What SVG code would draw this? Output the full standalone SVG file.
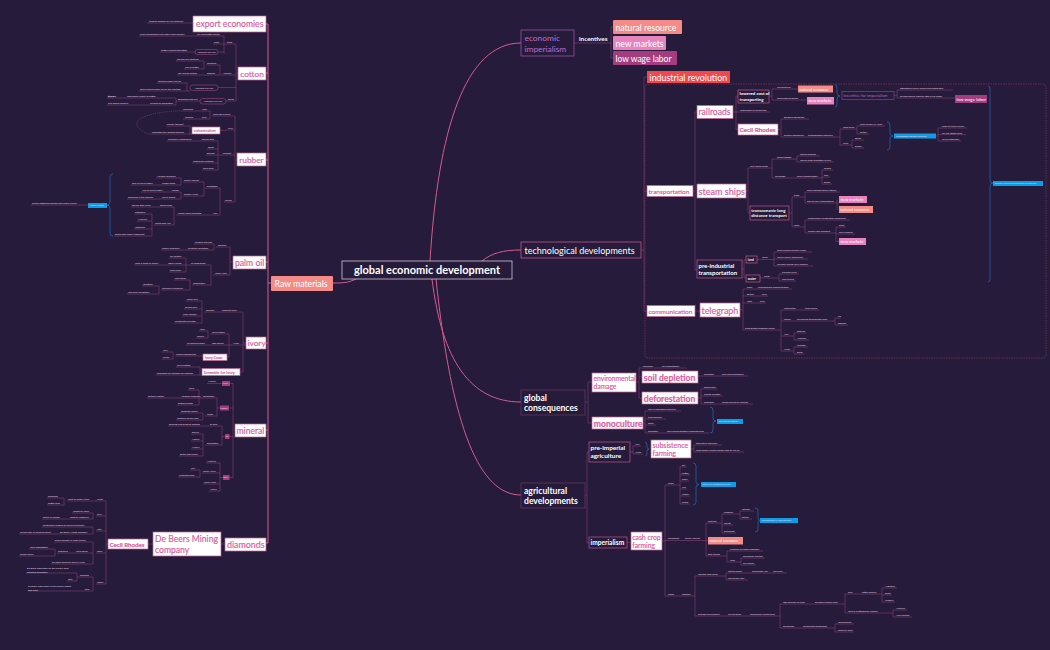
<svg xmlns="http://www.w3.org/2000/svg" width="1050" height="650" viewBox="0 0 1050 650">
<style>
text{font-family:Lato,"Open Sans","Liberation Sans",sans-serif}
.s{font-size:2.35px;fill:#e6dce9}
.sb{font-size:2.35px;fill:#fff;font-weight:700}
.c{stroke:#843f74;stroke-width:0.6;fill:none}
.cd{stroke:#843f74;stroke-width:0.6;fill:none;stroke-dasharray:1.2 0.8}
.m{stroke:#d35c92;stroke-width:1;fill:none}
.bl{stroke:#1f6fbf;stroke-width:0.7;fill:none}
.wb{fill:#fff;stroke:#c26293;stroke-width:0.7}
.db{fill:#261b3a;stroke:#c0578d;stroke-width:0.7}
.pt{fill:#d9609f;stroke:#d9609f;stroke-width:0.18}
.wt{fill:#fff}
.bx{fill:#0f9be6}
.sal{fill:#f58b86}
.pnk{fill:#e784bf}
.mag{fill:#a43d80}
.pill{fill:none;stroke:#b0508a;stroke-width:0.5}
</style>
<rect x="0" y="0" width="1050" height="650" fill="#261b3a"/>
<rect x="645" y="84" width="401" height="274" rx="3" fill="none" stroke="#8e3550" stroke-width="0.7" stroke-dasharray="1.5 1"/>

<g id="connectors">
<path class="m" d="M356 279 C348 283 342 283 333 283"/>
<path class="m" d="M430 261 C438 130 465 43 521 43"/>
<path class="m" d="M482 261 C492 253 503 250 521 250"/>
<path class="m" d="M432 279 C442 360 470 402 521 402"/>
<path class="m" d="M436 279 C452 430 480 495 521 495"/>
<path class="m" d="M264 24 H268 V543 H264 M266 73 H268 M266 160 H268 M266 262 H268 M266 343 H268 M266 430 H268 M268 283 H271"/>
<path class="c" d="M147 23 H193"/>
<path class="c" d="M224 44 H236 M236 44 V101 M236 73 H238 M224 36 V54 M196 36 H224 M139 36 H196 M213 44 H224 M218 52 H224 M160 52 H195 M222 75 H236 M220 65 V75 M206 65 H220 M204 61 V69 M176 61 H204 M184 69 H204 M206 75 H222 M177 75 H206 M218 87.5 H236 M157 83 H187 V91 M139 91 H190 M227 101 H236 M226 101 H227 M176 101 H200 M176 98 V105 M107 98 H176 M107 105 H176"/>
<path class="c" d="M235 116 V202 M235 160 H237 M212 116 H235 M210 111 V119 M182 111 H210 M183 119 H210 M226 130 H235 M220 130.5 H226 M190 126 V134 M166 126 H190 M151 134 H192 M222 155 H235 M218 141 V170 M167 141 H218 M207 149 H218 M206 155 H222 M192 163 H218 M202 170 H218 M224 202 H235 M220 188 V215 M205 188 H220 M204 182 V196 M183 182 H204 M183 196 H204 M181 178 V185 M156 178 H181 M131 185 H181 M181 192 V199 M141 192 H181 M127 199 H181 M176 215 H220 M174 207 V225 M131 207 H174 M154 225 H174 M152 214 V236 M134 214 H152 M137 221 H152 M134 229 H152 M114 236 H152 M31 205 H88"/>
<path class="cd" d="M182 111 C150 111 128 120 140 129 C144 133 148 134 151 134"/>
<path class="bl" d="M113 174 Q110 174 110 177 V202 Q110 205 107 205 Q110 205 110 208 V233 Q110 236 113 236"/>
<path class="c" d="M230 247 V275 M230 262 H233 M216 247 H230 M214 244 V250 M194 244 H214 M161 250 H214 M213 275 H230 M211 265 V285 M190 265 H211 M186 258 V272 M169 258 H186 M134 265 H190 M169 272 H186 M192 285 H211 M190 280 V290 M174 280 H190 M161 290 H190 M159 286 V294 M142 286 H159 M127 294 H159"/>
<path class="c" d="M243 312 V372 M243 343 H246 M220 312 H243 M204 312 H220 M202 301 V323 M186 301 H202 M184 309 H202 M182 316 H202 M174 323 H202 M232 345 H246 M229 334 V357 M210 334 H229 M208 331 V338 M199 331 H208 M196 338 H208 M186 345 H232 M227 357 H229 M175 356 H203 M173 352 V359 M162 352 H173 M162 359 H173 M240 372 H243 M200 367 V375 M176 367 H200 M156 375 H202"/>
<path class="c" d="M233 383 V478 M233 430 H235 M230 383.5 H233 M207 383.5 H222 M229 408 H233 M217 398 V416 M217 408 H220 M201 398 H217 M199 390 V405 M188 390 H199 M147 398 H201 M177 405 H199 M205 416 H217 M203 413 V420 M180 413 H203 M176 420 H203 M229 436.5 H233 M222 426 V445 M222 436.5 H225 M168 426 H222 M205 445 H222 M203 434 V456 M191 434 H203 M191 441 H203 M191 449 H203 M179 456 H203 M229 477.5 H233 M220 463 V491 M220 477.5 H223 M206 463 H220 M202 473 H220 M200 470 V477 M190 470 H200 M178 477 H200 M203 484 H220 M209 491 H220"/>
<path class="c" d="M221 544 H225 M148 544 H153 M106 501 V584 M106 544 H108 M67 501 H106 M64 498 V505 M47 498 H64 M47 505 H64 M96 516 H106 M93 513 V519 M72 513 H93 M42 519 H93 M96 531 H106 M93 527 V534 M42 527 H93 M19 534 H93 M96 553 H106 M93 542 V564 M54 542 H93 M57 553 H93 M55 549 V556 M29 549 H55 M19 556 H55 M51 564 H93 M96 584 H106 M93 577 V591 M77 577 H93 M77 573 V581 M26 573 H77 M67 581 H77 M28 591 H93"/>
<path class="c" d="M574 43 H611 M611 27 V58 M611 27 H613 M611 58 H613"/>
<path class="c" d="M641 250 H644 M644 77 V311 M644 77 H647 M644 191 H647 M644 311 H647 M693 191 H695 M695 112 V270 M695 112 H697 M695 270 H697 M733 112 H736 M736 96 V129.5 M736 96 H738 M736 112 H770 M736 129.5 H738 M769 96 H772 M772 89 V100 M772 89 H798 M772 100 H807 M894 95.5 H897 M897 90 V98 M897 90 H953 M897 98 H955"/>
<path class="bl" d="M835 85 Q837 85 837 88 V93 Q837 96 840 96 Q837 96 837 99 V104 Q837 107 835 107"/>
<path class="c" d="M778 129.5 H781 M781 119 V137 M781 119 H809 M781 137 H840 M840 129 V145 M840 129 H857 M857 126 V134 M857 126 H885 M857 134 H869 M840 145 H852 M852 140 V148 M852 140 H864 M852 148 H864 M936 136 H938 M938 128 V141 M938 128 H967 M938 134.5 H966 M938 141 H961"/>
<path class="bl" d="M887 122 Q890 122 890 125 V133 Q890 136 893 136 Q890 136 890 139 V147 Q890 150 887 150"/>
<path class="c" d="M746 191 H748 M748 168 V213 M748 168 H772 M748 213 H750 M772 159 V178 M772 159 H797 M797 156 V162 M797 156 H820 M797 162 H834 M772 178 H822 M822 170 V184 M822 170 H833 M822 177 H830 M822 184 H832 M789 213 H792 M792 197 V227 M792 197 H805 M805 192 V203 M805 192 H840 M805 203 H839 M837 199.5 V209.5 M792 227 H805 M805 220 V233 M805 220 H850 M805 233 H836 M836 227 V241.5 M836 227 H846 M836 234 H855 M836 241.5 H839 M742 269 H744 M744 259.5 V278 M744 259.5 H746 M744 278 H746 M757 259.5 H774 M774 252 V266 M774 252 H812 M774 259 H808 M774 266 H813 M760 278 H779 M779 274 V281 M779 274 H799 M779 281 H796"/>
<path class="bl" d="M988 86 Q990 86 990 89 V180 Q990 183 993 183 Q990 183 990 186 V279 Q990 282 988 282"/>
<path class="c" d="M695 311 H700 M740 310 H743 M743 289 V330 M743 289 H792 M743 296 H768 M743 303 H766 M743 330 H781 M781 310 V351 M781 310 H819 M781 321 H833 M835 318 V325 M833 321 H835 M835 318 H841 M835 325 H848 M781 336 H794 M794 333 V340 M794 333 H806 M794 340 H809 M781 351 H794 M794 347 V354 M794 347 H808 M794 354 H804"/>
<path class="c" d="M585 402 H588 M588 382 V423 M588 382 H592 M588 423 H592 M636 382 H639 M639 368 V398 M639 368 H687 M639 377 H642 M639 398 H642 M698 376 H748 M698 398 H701 M701 389 V404 M701 389 H717 M701 396 H723 M701 404 H753 M643 423 H645 M645 411 V433 M645 411 H681 M645 419 H666 M645 425 H656 M645 433 H709"/>
<path class="bl" d="M710 407 Q713 407 713 410 V418 Q713 421 716 421 Q713 421 713 424 V430 Q713 433 710 433"/>
<path class="c" d="M585 495 H587 M587 452 V543 M587 452 H589 M587 543 H589 M630 452 H633 M633 446 V454 M633 446 H641 M633 454 H643 M691 449 H694 M694 445 V452 M694 445 H722 M694 452 H744 M627 542.5 H631 M662 541 H665 M665 485 V596 M665 485 H680 M680 467 V504 M680 467 H687 M680 475 H690 M680 481 H689 M680 489 H687 M680 496 H690 M680 504 H690 M665 540.5 H708 M706 523 V556 M706 523 H722 M722 514 V533 M722 514 H740 M740 511 V519 M740 511 H754 M740 519 H752 M722 525 H733 M722 533 H736 M706 556 H727 M727 551 V562 M727 551 H763 M727 562 H741 M741 558 V565 M741 558 H765 M741 565 H756"/>
<path class="bl" d="M645 442 Q647 442 647 445 V446.5 Q647 449 649 449 Q647 449 647 451.5 V453 Q647 456 645 456"/>
<path class="bl" d="M693 463 Q696 463 696 466 V481.5 Q696 484.5 699 484.5 Q696 484.5 696 487.5 V502 Q696 505 693 505"/>
<path class="bl" d="M755 508 Q758 508 758 511 V517.5 Q758 520.5 760 520.5 Q758 520.5 758 523.5 V529 Q758 532 755 532"/>
<path class="c" d="M665 596 H695 M695 576 V616 M695 576 H726 M726 573 V580 M726 573 H787 M726 580 H748 M695 616 H780 M780 604 V628 M780 604 H845 M845 594 V613 M845 594 H882 M882 588 V602 M882 588 H897 M882 595 H892 M882 602 H895 M845 613 H893 M893 610 V617 M893 610 H907 M893 617 H912 M780 628 H835 M835 624 V632 M835 624 H854 M835 632 H854"/>
</g>

<g id="n-center"><rect x="342" y="261" width="170" height="18" fill="#261b3a" stroke="#cfc8d8" stroke-width="0.8"/><text x="427" y="273.8" text-anchor="middle" font-size="11" font-weight="700" class="wt">global economic development</text></g>
<g id="n-raw"><rect x="271" y="276" width="62" height="15" rx="1" class="sal"/><text x="274.5" y="286.8" font-size="8.7" class="wt">Raw materials</text></g>

<g id="n-export"><rect x="193" y="16" width="73" height="16" class="wb"/><text x="196" y="27.3" font-size="8.6" class="pt">export economies</text></g>
<g id="n-cotton"><rect x="238" y="67" width="28" height="13" class="wb"/><text x="240.3" y="76.6" font-size="8.3" class="pt">cotton</text></g>
<g id="n-rubber"><rect x="237" y="153" width="29" height="13" class="wb"/><text x="239.3" y="162.6" font-size="8.3" class="pt">rubber</text></g>
<g id="n-palm"><rect x="233" y="256" width="33" height="13" class="wb"/><text x="235" y="265.6" font-size="8.6" class="pt">palm oil</text></g>
<g id="n-ivory"><rect x="246" y="337" width="20" height="12" class="wb"/><text x="247.5" y="346.2" font-size="8.3" class="pt">ivory</text></g>
<g id="n-mineral"><rect x="235" y="424" width="31" height="13" class="wb"/><text x="236.5" y="433.7" font-size="8.6" class="pt">mineral</text></g>
<g id="n-diamonds"><rect x="225" y="538" width="41" height="13" class="wb"/><text x="227" y="547.7" font-size="8.9" class="pt">diamonds</text></g>
<g id="n-debeers"><rect x="153" y="532" width="68" height="24" class="wb"/><text x="155" y="542.3" font-size="8.6" class="pt">De Beers Mining</text><text x="155" y="552.8" font-size="8.6" class="pt">company</text></g>
<g id="n-cecil-l"><rect x="108" y="539" width="40" height="10" class="wb"/><text x="109.5" y="546.6" font-size="6.1" font-weight="700" class="pt">Cecil Rhodes</text></g>
<g id="n-acw1"><rect x="195" y="49.5" width="23" height="5" rx="2.5" class="pill"/><text x="206.5" y="52.8" text-anchor="middle" class="s">American civil war</text></g>
<g id="n-acw2"><rect x="190" y="85" width="28" height="5.5" rx="2.7" class="pill"/><text x="204" y="88.6" text-anchor="middle" class="s">American civil war</text></g>
<g id="n-acw3"><rect x="200" y="98.5" width="26" height="5.5" rx="2.7" class="pill"/><text x="213" y="102.1" text-anchor="middle" class="s">American civil war</text></g>
<g id="n-vulc"><rect x="192" y="127" width="28" height="7" class="wb"/><text x="193.8" y="132.2" font-size="3.8" class="pt">vulcanization</text></g>
<g id="n-rubberforests"><rect x="88" y="203" width="19" height="5" class="bx"/><text x="89.5" y="206.3" class="s" fill="#fff">rubber forests</text></g>
<g id="n-ivorycoast"><rect x="203" y="354" width="24" height="6.5" class="wb"/><text x="204.8" y="358.8" font-size="3.6" class="pt">Ivory Coast</text></g>
<g id="n-scramble"><rect x="202" y="368.5" width="38" height="7" class="wb"/><text x="203.8" y="373.6" font-size="3.9" class="pt">Scramble for Ivory</text></g>
<g id="n-silver"><rect x="222" y="381" width="8" height="5" class="mag"/><text x="223" y="384.4" class="s">silver</text></g>
<g id="n-copper"><rect x="220" y="405.5" width="9" height="5" class="mag"/><text x="220.6" y="408.9" class="s">copper</text></g>
<g id="n-tin"><rect x="225" y="434" width="4.5" height="5" class="mag"/><text x="225.8" y="437.4" class="s">tin</text></g>
<g id="n-gold"><rect x="223" y="475" width="6.5" height="5" class="mag"/><text x="223.6" y="478.4" class="s">gold</text></g>

<g id="labels-left">
<text class="s" x="149" y="22">imports demand for raw materials</text>
<text class="s" x="140" y="35">crush competition with native local industry</text>
<text class="s" x="197" y="35">low cost cotton textile</text>
<text class="s" x="214" y="43">cloth</text>
<text class="s" x="227" y="43">trade</text>
<text class="s" x="161" y="51">cotton farmers benefitted</text>
<text class="s" x="177" y="60">provide raw materials</text>
<text class="s" x="207" y="64">industrial</text>
<text class="s" x="185" y="68">lack of cotton</text>
<text class="s" x="178" y="74">low-skilled textiles</text>
<text class="s" x="207" y="74">England</text>
<text class="s" x="223" y="74">America</text>
<text class="s" x="158" y="82">increase supply cut off</text>
<text class="s" x="140" y="90">other colonies make up for the shortage</text>
<text class="sb" x="108" y="97">$13 BN</text>
<text class="s" x="127" y="97">long-staple variety of cotton</text>
<text class="s" x="108" y="104">$25 export revenue</text>
<text class="s" x="150" y="104">reliance on production</text>
<text class="s" x="178" y="100">benefited from war</text>
<text class="s" x="228" y="100">Egypt</text>
<text class="s" x="183" y="110">rainforest</text>
<text class="s" x="202" y="110">latex</text>
<text class="s" x="185" y="118">hardens</text>
<text class="s" x="202" y="118">cold</text>
<text class="s" x="213" y="115">from sap of trees</text>
<text class="s" x="167" y="125">shorter (bounce)</text>
<text class="s" x="152" y="133">eliminated the melting problem</text>
<text class="s" x="228" y="129">Why</text>
<text class="s" x="168" y="140">eventually automobiles</text>
<text class="s" x="202" y="140">bicycle tires</text>
<text class="s" x="208" y="148">boots</text>
<text class="s" x="207" y="154">gaskets</text>
<text class="s" x="223" y="154">product</text>
<text class="s" x="193" y="162">waterproof clothing</text>
<text class="s" x="203" y="169">shoe soles</text>
<text class="s" x="157" y="177">Amazon rainforest</text>
<text class="s" x="184" y="181">South America</text>
<text class="s" x="132" y="184">50% of world supply</text>
<text class="s" x="162" y="184">rubber boom</text>
<text class="s" x="207" y="187">plantation</text>
<text class="s" x="142" y="191">45% of world supply</text>
<text class="s" x="172" y="191">Congo</text>
<text class="s" x="184" y="195">Central Africa</text>
<text class="s" x="128" y="198">destroyed in the process</text>
<text class="s" x="162" y="198">rise in profits</text>
<text class="s" x="225" y="201">source</text>
<text class="s" x="132" y="206">bicycle tires wheel</text>
<text class="s" x="160" y="206">boom crops</text>
<text class="s" x="178" y="214">rubber seeds extracted</text>
<text class="s" x="213" y="214">Asia</text>
<text class="s" x="135" y="213">Singapore</text>
<text class="s" x="138" y="220">Malaysia</text>
<text class="s" x="155" y="224">South East Asia</text>
<text class="s" x="135" y="228">Indochina</text>
<text class="s" x="115" y="235">Dutch East Indies (Indonesia)</text>
<text class="s" x="32" y="204">forced indigenous people into virtual slavery</text>
<text class="s" x="195" y="243">comfort cooking</text>
<text class="s" x="218" y="246">product</text>
<text class="s" x="162" y="249">factory machines</text>
<text class="s" x="188" y="249">constant lubrication</text>
<text class="s" x="170" y="257">soil fertility</text>
<text class="s" x="135" y="264">used in place of money</text>
<text class="s" x="168" y="264">highly valued</text>
<text class="s" x="191" y="264">oil importance</text>
<text class="s" x="170" y="271">some seen</text>
<text class="s" x="215" y="274">West Africa</text>
<text class="s" x="175" y="279">cash crops</text>
<text class="s" x="193" y="284">importation</text>
<text class="s" x="143" y="285">unsettled</text>
<text class="s" x="162" y="289">interest of Westerns</text>
<text class="s" x="128" y="293">help pave civilization</text>
<text class="s" x="187" y="300">piano keys</text>
<text class="s" x="185" y="308">billiard balls</text>
<text class="s" x="206" y="311">product</text>
<text class="s" x="222" y="311">elephant tusks</text>
<text class="s" x="183" y="315">knife handles</text>
<text class="s" x="175" y="322">ornamental carvings</text>
<text class="s" x="200" y="330">male</text>
<text class="s" x="212" y="333">lower supply</text>
<text class="s" x="197" y="337">female</text>
<text class="s" x="187" y="344">no tension tangle</text>
<text class="s" x="212" y="344">high quality</text>
<text class="s" x="233" y="344">Africa</text>
<text class="s" x="163" y="351">ivory</text>
<text class="s" x="176" y="355">French trading post</text>
<text class="s" x="163" y="358">slaves</text>
<text class="s" x="177" y="366">over-hunting</text>
<text class="s" x="157" y="374">precedent for scramble for colonies</text>
<text class="s" x="208" y="382">Mexico</text>
<text class="s" x="189" y="389">Chile</text>
<text class="s" x="148" y="397">modern Zambia</text>
<text class="s" x="181" y="397">Northern Rhodesia</text>
<text class="s" x="203" y="397">production</text>
<text class="s" x="178" y="404">Belgian Congo</text>
<text class="s" x="181" y="412">telegraph cables</text>
<text class="s" x="207" y="415">usage</text>
<text class="s" x="177" y="419">electrical power lines</text>
<text class="s" x="169" y="425">growing food product demand</text>
<text class="s" x="210" y="425">to cans</text>
<text class="s" x="192" y="433">Bolivia</text>
<text class="s" x="192" y="440">Nigeria</text>
<text class="s" x="207" y="444">production</text>
<text class="s" x="192" y="448">Malaya</text>
<text class="s" x="180" y="455">Dutch East Indies</text>
<text class="s" x="207" y="462">Australia</text>
<text class="s" x="191" y="469">USA</text>
<text class="s" x="203" y="472">South Africa</text>
<text class="s" x="179" y="476">Witwatersrand</text>
<text class="s" x="204" y="483">West Africa</text>
<text class="s" x="210" y="490">Alaska</text>
<text class="s" x="48" y="497">diamonds</text>
<text class="s" x="68" y="500">went to South Africa</text>
<text class="s" x="97" y="500">youth</text>
<text class="s" x="48" y="504">cotton farm</text>
<text class="s" x="73" y="512">Kimberley mine</text>
<text class="s" x="43" y="518">center of mining</text>
<text class="s" x="70" y="518">went to Kimberley</text>
<text class="s" x="97" y="515">early</text>
<text class="s" x="43" y="526">completed a degree at Oxford University</text>
<text class="s" x="20" y="533">owned 90% of diamond mines</text>
<text class="s" x="60" y="533">De Beers Mining Company</text>
<text class="s" x="97" y="530">later</text>
<text class="s" x="55" y="541">prime minister of Cape Colony</text>
<text class="s" x="30" y="548">racial segregation</text>
<text class="s" x="58" y="552">apartheid</text>
<text class="s" x="76" y="552">racial policy</text>
<text class="s" x="97" y="552">ideas</text>
<text class="s" x="20" y="555">forced labour</text>
<text class="s" x="52" y="563">the most powerful man in Africa</text>
<text class="s" x="27" y="569">De Beers accounted for the world's most</text>
<text class="s" x="27" y="572.5">diamond production</text>
<text class="s" x="80" y="576">diamond</text>
<text class="s" x="68" y="580">50%</text>
<text class="s" x="97" y="583">legacy</text>
<text class="s" x="28" y="587">currently larger stake in the world's largest</text>
<text class="s" x="28" y="590.5">gold mine</text>
<text class="s" x="85" y="590">gold</text>
</g>

<g id="n-econimp"><rect x="521" y="30" width="53" height="26" fill="none" stroke="#9a4fa8" stroke-width="0.8"/><text x="524.5" y="40.7" font-size="8.4" fill="#c06bd0">economic</text><text x="524.5" y="51.5" font-size="8.4" fill="#c06bd0">imperialism</text></g>
<g id="n-incentives"><text x="579" y="41.3" font-size="6.3" font-weight="700" class="wt">incentives</text></g>
<g id="n-natres"><rect x="613" y="20" width="69" height="14" rx="1" class="sal"/><text x="615.5" y="30.6" font-size="8.6" class="wt">natural resource</text></g>
<g id="n-newmk"><rect x="613" y="36" width="53" height="14" rx="1" class="pnk"/><text x="615.5" y="46.6" font-size="8.6" class="wt">new markets</text></g>
<g id="n-lowwage"><rect x="613" y="51" width="64" height="14" rx="1" class="mag"/><text x="615.5" y="61.6" font-size="8.5" class="wt">low wage labor</text></g>
<g id="n-indrev"><rect x="647" y="71" width="83" height="12" fill="#f2474d"/><text x="649.5" y="80.7" font-size="8.9" class="wt">industrial revolution</text></g>
<g id="n-techdev"><rect x="521" y="242" width="120" height="16" fill="#261b3a" stroke="#c4568b" stroke-width="0.8"/><text x="524.5" y="253.5" font-size="9" class="wt">technological developments</text></g>
<g id="n-global"><rect x="521" y="390" width="64" height="25" fill="#261b3a" stroke="#6e3a66" stroke-width="0.7"/><text x="524" y="400.8" font-size="8.6" font-weight="700" class="wt">global</text><text x="524" y="411" font-size="8.6" font-weight="700" class="wt">consequences</text></g>
<g id="n-agri"><rect x="521" y="483" width="64" height="25" fill="#261b3a" stroke="#6e3a66" stroke-width="0.7"/><text x="524" y="493.8" font-size="8.6" font-weight="700" class="wt">agricultural</text><text x="524" y="504" font-size="8.6" font-weight="700" class="wt">developments</text></g>
<g id="n-transport"><rect x="647" y="185.5" width="46" height="11" class="wb"/><text x="648.5" y="193.6" font-size="6.5" class="pt">transportation</text></g>
<g id="n-comm"><rect x="647" y="305.5" width="48" height="11" class="wb"/><text x="648.5" y="313.6" font-size="6.5" class="pt">communication</text></g>
<g id="n-railroads"><rect x="697" y="105.5" width="36" height="13" class="wb"/><text x="698.5" y="115.3" font-size="8.6" class="pt">railroads</text></g>
<g id="n-lowered"><rect x="738" y="90" width="31" height="13" class="db"/><text x="739.5" y="95.4" font-size="4.4" font-weight="700" class="wt">lowered cost of</text><text x="739.5" y="101" font-size="4.4" font-weight="700" class="wt">transporting</text></g>
<g id="n-natres2"><rect x="798" y="85.5" width="35" height="7" class="sal"/><text x="799.5" y="90.6" font-size="4.1" class="wt">natural resource</text></g>
<g id="n-newmk2"><rect x="807" y="97" width="27" height="7.5" class="pnk"/><text x="808.5" y="102.3" font-size="4.1" class="wt">new markets</text></g>
<g id="n-incentive"><rect x="842" y="91.5" width="52" height="8" fill="none" stroke="#8f4aa0" stroke-width="0.6"/><text x="843.5" y="97.1" font-size="4.1" fill="#b466c6">incentive for imperialism</text></g>
<g id="n-lowwage2"><rect x="955" y="95" width="32" height="8" class="mag"/><text x="956.5" y="100.8" font-size="4.5" class="wt">low wage labor</text></g>
<g id="n-cecil-r"><rect x="738" y="124" width="40" height="11" class="wb"/><text x="739.5" y="132.1" font-size="6.3" font-weight="700" class="pt">Cecil Rhodes</text></g>
<g id="n-connecting"><rect x="894" y="133.5" width="42" height="5" class="bx"/><text x="896" y="136.9" class="s" fill="#fff">connecting of British Colonies</text></g>
<g id="n-steam"><rect x="697" y="184" width="49" height="14" class="wb"/><text x="698.5" y="194.8" font-size="9.1" class="pt">steam ships</text></g>
<g id="n-transoc"><rect x="750" y="206" width="39" height="14" class="db"/><text x="751.3" y="211.7" font-size="4.4" font-weight="700" class="wt">transoceanic long</text><text x="751.3" y="217.4" font-size="4.4" font-weight="700" class="wt">distance transport</text></g>
<g id="n-newmk3"><rect x="839" y="196" width="28" height="7" class="pnk"/><text x="840.5" y="200.9" font-size="4.1" class="wt">new markets</text></g>
<g id="n-natres3"><rect x="839" y="206" width="34" height="7" class="sal"/><text x="840.5" y="210.9" font-size="4.1" class="wt">natural resource</text></g>
<g id="n-newmk4"><rect x="839" y="238" width="27" height="7" class="pnk"/><text x="840.5" y="242.9" font-size="4.1" class="wt">new markets</text></g>
<g id="n-preind"><rect x="697" y="260" width="45" height="18" class="db"/><text x="698.5" y="267.6" font-size="6" font-weight="700" class="wt">pre-industrial</text><text x="698.5" y="275.2" font-size="6" font-weight="700" class="wt">transportation</text></g>
<g id="n-land"><rect x="746" y="256" width="11" height="7" class="db"/><text x="747.8" y="260.9" font-size="3.2" font-weight="700" class="wt">land</text></g>
<g id="n-water"><rect x="746" y="275" width="14" height="7" class="db"/><text x="747.8" y="279.9" font-size="3.2" font-weight="700" class="wt">water</text></g>
<g id="n-primarily"><rect x="993" y="181" width="50" height="5" class="bx"/><text x="994.5" y="184.4" class="s" fill="#fff">primarily serves development of colonies</text></g>
<g id="n-telegraph"><rect x="700" y="303" width="40" height="14" class="wb"/><text x="701.5" y="313.8" font-size="8.9" class="pt">telegraph</text></g>
<g id="n-envdmg"><rect x="592" y="373" width="44" height="19" class="wb"/><text x="593.5" y="381.2" font-size="6.7" class="pt">environmental</text><text x="593.5" y="389.3" font-size="6.7" class="pt">damage</text></g>
<g id="n-soil"><rect x="642" y="371" width="56" height="12" class="wb"/><text x="643.8" y="380.7" font-size="8.6" font-weight="700" class="pt">soil depletion</text></g>
<g id="n-defo"><rect x="642" y="392" width="56" height="12" class="wb"/><text x="643.8" y="401.7" font-size="8.6" font-weight="700" class="pt">deforestation</text></g>
<g id="n-mono"><rect x="592" y="417" width="51" height="12" class="wb"/><text x="593.8" y="426.7" font-size="8.6" font-weight="700" class="pt">monoculture</text></g>
<g id="n-devnat"><rect x="717" y="419" width="26" height="5" class="bx"/><text x="718.5" y="422.4" class="s" fill="#fff">developing nations</text></g>
<g id="n-preimp"><rect x="589" y="442" width="41" height="20" class="db"/><text x="590.5" y="450.2" font-size="6.4" font-weight="700" class="wt">pre-imperial</text><text x="590.5" y="458.4" font-size="6.4" font-weight="700" class="wt">agriculture</text></g>
<g id="n-subsist"><rect x="651" y="440" width="40" height="18" class="wb"/><text x="652.5" y="447.7" font-size="7" class="pt">subsistence</text><text x="652.5" y="455.9" font-size="7" class="pt">farming</text></g>
<g id="n-imperialism"><rect x="589" y="537" width="38" height="11" class="db"/><text x="590.5" y="545.2" font-size="6.6" font-weight="700" class="wt">imperialism</text></g>
<g id="n-cashcrop"><rect x="631" y="532" width="31" height="18" class="wb"/><text x="632.3" y="539.7" font-size="6.8" class="pt">cash crop</text><text x="632.3" y="547.9" font-size="6.8" class="pt">farming</text></g>
<g id="n-grown"><rect x="701" y="482" width="35" height="5" class="bx"/><text x="702.5" y="485.4" class="s" fill="#fff">grown for commercial sales</text></g>
<g id="n-natres4"><rect x="708" y="537" width="35" height="7.5" class="sal"/><text x="709.5" y="542.1" font-size="4.1" class="wt">natural resource</text></g>
<g id="n-accum"><rect x="760" y="518" width="38" height="5" class="bx"/><text x="761.5" y="521.4" class="s" fill="#fff">accumulated in large quantity</text></g>

<g id="labels-right">
<text class="s" x="777" y="88">raw materials</text>
<text class="s" x="777" y="99">manufactured goods</text>
<text class="s" x="900" y="89">attracting as newly discovered possibilities</text>
<text class="s" x="900" y="97">paying colonial laborers little or no wages</text>
<text class="s" x="740" y="111">justification of colonialism</text>
<text class="s" x="784" y="118">De Beers Diamonds</text>
<text class="s" x="784" y="136">colonial boundaries</text>
<text class="s" x="808" y="136">transportation networks</text>
<text class="s" x="843" y="128">Cape Town</text>
<text class="s" x="860" y="125">Cape Colony of Africa</text>
<text class="s" x="860" y="133">British</text>
<text class="s" x="843" y="144">Cairo</text>
<text class="s" x="855" y="139">Egypt</text>
<text class="s" x="855" y="147">British</text>
<text class="s" x="942" y="127">Cape-to-Cairo railway</text>
<text class="s" x="942" y="133.5">rail line mostly built</text>
<text class="s" x="942" y="140">never completed</text>
<text class="s" x="750" y="167">early steam boats</text>
<text class="s" x="777" y="158">disadvantages</text>
<text class="s" x="800" y="155">limited distance</text>
<text class="s" x="800" y="161">require huge quantities of coal</text>
<text class="s" x="775" y="177">advantage</text>
<text class="s" x="797" y="177">more transportation</text>
<text class="s" x="824" y="169">people</text>
<text class="s" x="824" y="176">mail</text>
<text class="s" x="824" y="183">goods</text>
<text class="s" x="794" y="196">trade</text>
<text class="s" x="807" y="191">more efficient steam engines</text>
<text class="s" x="807" y="202">able to carry long distance</text>
<text class="s" x="794" y="226">ships</text>
<text class="s" x="808" y="219">compression refrigeration equipment</text>
<text class="s" x="808" y="232">enable food transport</text>
<text class="s" x="839" y="226">meat</text>
<text class="s" x="839" y="233">dairy product</text>
<text class="s" x="762" y="258">roads</text>
<text class="s" x="777" y="251">more colonial territory roads</text>
<text class="s" x="777" y="258">usually poorly maintained</text>
<text class="s" x="777" y="265">unusable during rainy seasons</text>
<text class="s" x="764" y="277">boats</text>
<text class="s" x="782" y="273">traveled rivers</text>
<text class="s" x="782" y="280">slow travels</text>
<text class="s" x="747" y="288">ships</text>
<text class="s" x="758" y="288">instantaneous communication</text>
<text class="s" x="747" y="295">Britain</text>
<text class="s" x="762" y="295">days</text>
<text class="s" x="747" y="302">India</text>
<text class="s" x="760" y="302">days</text>
<text class="s" x="745" y="329">transatlantic telegraph cables</text>
<text class="s" x="784" y="309">underwater</text>
<text class="s" x="805" y="309">cross ocean</text>
<text class="s" x="784" y="320">cabled</text>
<text class="s" x="797" y="320">permanent transatlantic cable</text>
<text class="s" x="838" y="317">US</text>
<text class="s" x="838" y="324">England</text>
<text class="s" x="784" y="335">Asia</text>
<text class="s" x="797" y="332">England</text>
<text class="s" x="797" y="339">Australia</text>
<text class="s" x="784" y="350">Africa</text>
<text class="s" x="797" y="346">Portugal</text>
<text class="s" x="797" y="353">Brazil</text>
<text class="s" x="643" y="367">causation</text>
<text class="s" x="662" y="367">soil exploitations</text>
<text class="s" x="704" y="375">causation</text>
<text class="s" x="722" y="375">cash crop plantations</text>
<text class="s" x="704" y="388">biodiversity</text>
<text class="s" x="704" y="395">climate changes</text>
<text class="s" x="704" y="403">causation</text>
<text class="s" x="722" y="403">forest cleared for farming</text>
<text class="s" x="648" y="410">lack of agricultural diversity</text>
<text class="s" x="648" y="418">crop diseases</text>
<text class="s" x="648" y="424">pests</text>
<text class="s" x="648" y="432">causation</text>
<text class="s" x="667" y="432">cash crop plantations replacing food</text>
<text class="s" x="635" y="445">Asia</text>
<text class="s" x="635" y="453">Africa</text>
<text class="s" x="696" y="444">agricultural economy</text>
<text class="s" x="696" y="451">most people raising enough food to live on</text>
<text class="s" x="668" y="484">crops</text>
<text class="s" x="682" y="466">tea</text>
<text class="s" x="682" y="474">cotton</text>
<text class="s" x="682" y="480">sugar</text>
<text class="s" x="682" y="488">rice</text>
<text class="s" x="682" y="495">rubber</text>
<text class="s" x="682" y="503">coffee</text>
<text class="s" x="668" y="539">plantations</text>
<text class="s" x="685" y="539">South America</text>
<text class="s" x="708" y="522">fertilizer</text>
<text class="s" x="724" y="513">saltpeter</text>
<text class="s" x="742" y="510">nitrates</text>
<text class="s" x="742" y="518">potash</text>
<text class="s" x="724" y="524">nitrate</text>
<text class="s" x="724" y="532">phosphate</text>
<text class="s" x="708" y="555">gold mining</text>
<text class="s" x="730" y="550">evidence of forced migration</text>
<text class="s" x="730" y="561">labor</text>
<text class="s" x="743" y="557">indentured workers</text>
<text class="s" x="743" y="564">Polynesian</text>
<text class="s" x="668" y="595">effect</text>
<text class="s" x="682" y="595">negative</text>
<text class="s" x="698" y="575">rejected food crops</text>
<text class="s" x="728" y="572">limited supply</text>
<text class="s" x="752" y="572">South East Asia</text>
<text class="s" x="773" y="572">rice crisis</text>
<text class="s" x="728" y="579">food prices rose</text>
<text class="s" x="698" y="615">damage environment</text>
<text class="s" x="728" y="615">over-grazing</text>
<text class="s" x="750" y="615">unnecessary pastoralism</text>
<text class="s" x="783" y="603">high demand for beef</text>
<text class="s" x="815" y="603">European middle class</text>
<text class="s" x="848" y="593">beef</text>
<text class="s" x="862" y="593">cattle ranches</text>
<text class="s" x="885" y="587">Argentina</text>
<text class="s" x="885" y="594">Brazil</text>
<text class="s" x="885" y="601">Uruguay</text>
<text class="s" x="848" y="612">wool &amp; mutton</text>
<text class="s" x="863" y="612">sheep ranches</text>
<text class="s" x="896" y="609">Australia</text>
<text class="s" x="896" y="616">New Zealand</text>
<text class="s" x="783" y="627">technology</text>
<text class="s" x="803" y="627">refrigerated steamships</text>
<text class="s" x="838" y="623">long distance</text>
<text class="s" x="838" y="631">preserve meat</text>
</g>
</svg>
